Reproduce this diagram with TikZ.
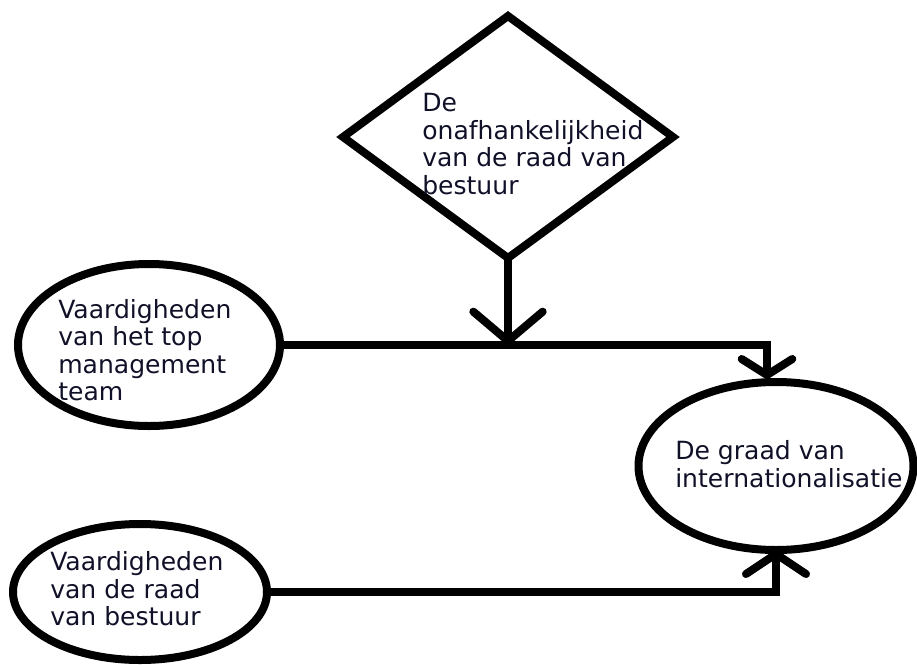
\documentclass[tikz,border=0pt]{standalone}
\usepackage{fontspec}
\setmainfont{DejaVu Sans}
\usetikzlibrary{shapes.geometric,arrows.meta}
\definecolor{txt}{RGB}{16,16,40}
\tikzset{
  shapeline/.style={draw=black, line width=6pt, inner sep=0pt, outer sep=0pt},
  oval/.style={shapeline, ellipse},
  rhomb/.style={shapeline, diamond},
  lbl/.style={anchor=west, align=left, inner sep=0pt, text=txt, font=\fontsize{18.8}{20.6}\selectfont},
  conn/.style={draw=black, line width=6pt},
}
\begin{document}
\begin{tikzpicture}[x=0.75pt, y=-0.75pt]
\useasboundingbox (0,0) rectangle (917,664);
% shapes
\node[rhomb, minimum width=247.5pt, minimum height=181.5pt] (d) at (508,137) {};
\node[oval, minimum width=196.5pt, minimum height=121.5pt] (e1) at (149,345) {};
\node[oval, minimum width=190.5pt, minimum height=102pt] (e2) at (140,592) {};
\node[oval, minimum width=206.25pt, minimum height=126pt] (e3) at (776,466) {};
% texts
\node[lbl] (td) at (422,144) {De\\onafhankelijkheid\\van de raad van\\bestuur};
\node[lbl] (t1) at (58,350) {Vaardigheden\\van het top\\management\\team};
\node[lbl] (t2) at (50,589) {Vaardigheden\\van de raad\\van bestuur};
\node[lbl] (t3) at (675,464) {De graad van\\internationalisatie};
% connectors
\coordinate (j) at (d.south |- e1.east);
\coordinate (in1) at (767,379);
\draw[conn, -{Straight Barb[length=22pt, width=52pt, round]}] (d.south) -- (j);
\draw[conn, -{Straight Barb[length=12pt, width=38pt, round]}] (e1.east) -| (in1);
\draw[conn, -{Straight Barb[length=15pt, width=45pt, round]}] (e2.east) -| (e3.south);
\end{tikzpicture}
\end{document}
